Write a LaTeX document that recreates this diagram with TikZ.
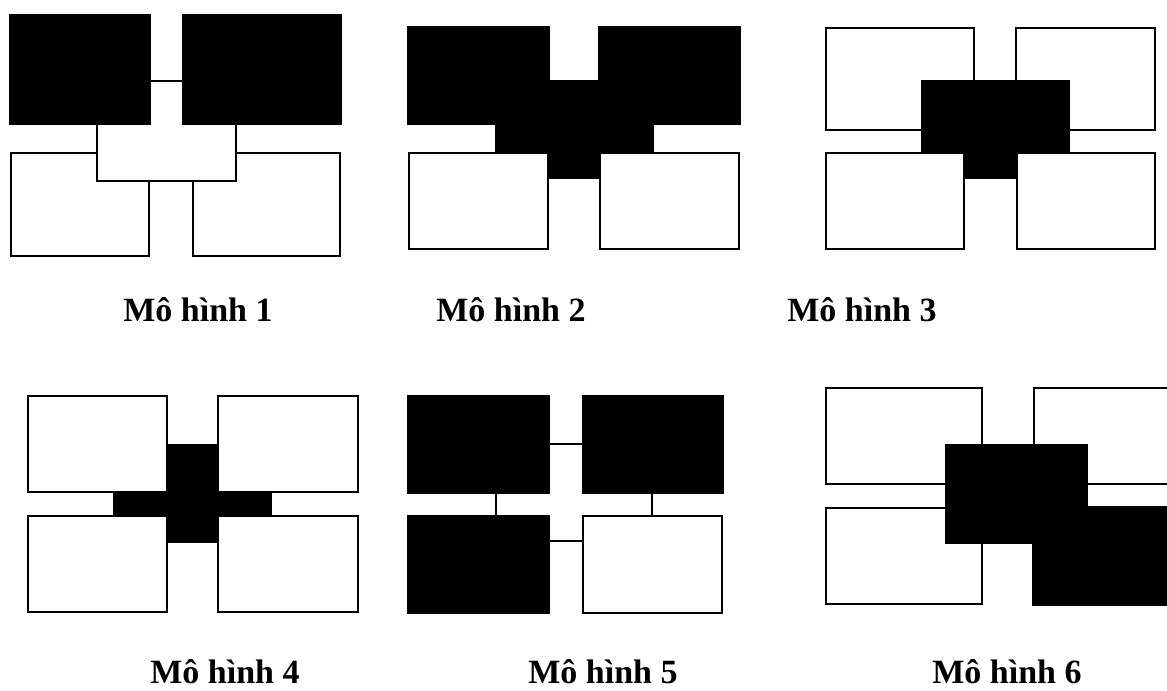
\documentclass[tikz,border=0pt]{standalone}
\usepackage{fontspec}
\setmainfont{Liberation Serif}
\begin{document}
\begin{tikzpicture}[x=0.75pt,y=-0.75pt,
  wbox/.style={draw=black,fill=white,line width=1pt},
  bbox/.style={draw=black,fill=black,line width=1pt},
  lbl/.style={anchor=base,inner sep=0pt,font=\fontsize{25.5}{30}\selectfont\bfseries}]
\useasboundingbox (0,0) rectangle (1167,691);
\clip (0,0) rectangle (1167,691);
% ---- Model 1
\draw[wbox] (11,153) rectangle (149,256);
\draw[wbox] (193,153) rectangle (340,256);
\draw[wbox] (97,81) rectangle (236,181);
\draw[bbox] (10,15) rectangle (150,124);
\draw[bbox] (183,15) rectangle (341,124);
\node[lbl] (l1) at (198,322) {Mô hình 1};
% ---- Model 2
\draw[bbox] (496,81) rectangle (653,178);
\draw[wbox] (409,153) rectangle (548,249);
\draw[wbox] (600,153) rectangle (739,249);
\draw[bbox] (408,27) rectangle (549,124);
\draw[bbox] (599,27) rectangle (740,124);
\node[lbl] (l2) at (511,322) {Mô hình 2};
% ---- Model 3
\draw[wbox] (826,28) rectangle (974,130);
\draw[wbox] (1016,28) rectangle (1155,130);
\draw[bbox] (922,81) rectangle (1069,178);
\draw[wbox] (826,153) rectangle (964,249);
\draw[wbox] (1017,153) rectangle (1155,249);
\node[lbl] (l3) at (862,322) {Mô hình 3};
% ---- Model 4
\draw[bbox] (114,445) rectangle (271,542);
\draw[wbox] (28,396) rectangle (167,492);
\draw[wbox] (218,396) rectangle (358,492);
\draw[wbox] (28,516) rectangle (167,612);
\draw[wbox] (218,516) rectangle (358,612);
\node[lbl] (l4) at (225,683) {Mô hình 4};
% ---- Model 5
\draw[wbox] (496,444) rectangle (652,541);
\draw[bbox] (408,396) rectangle (549,493);
\draw[bbox] (583,396) rectangle (723,493);
\draw[bbox] (408,516) rectangle (549,613);
\draw[wbox] (583,516) rectangle (722,613);
\node[lbl] (l5) at (603,683) {Mô hình 5};
% ---- Model 6
\draw[wbox] (826,388) rectangle (982,484);
\draw[wbox] (1034,388) rectangle (1192,484);
\draw[wbox] (826,508) rectangle (982,604);
\draw[bbox] (1033,507) rectangle (1192,605);
\draw[bbox] (946,445) rectangle (1087,543);
\node[lbl] (l6) at (1007,683) {Mô hình 6};
\end{tikzpicture}
\end{document}
